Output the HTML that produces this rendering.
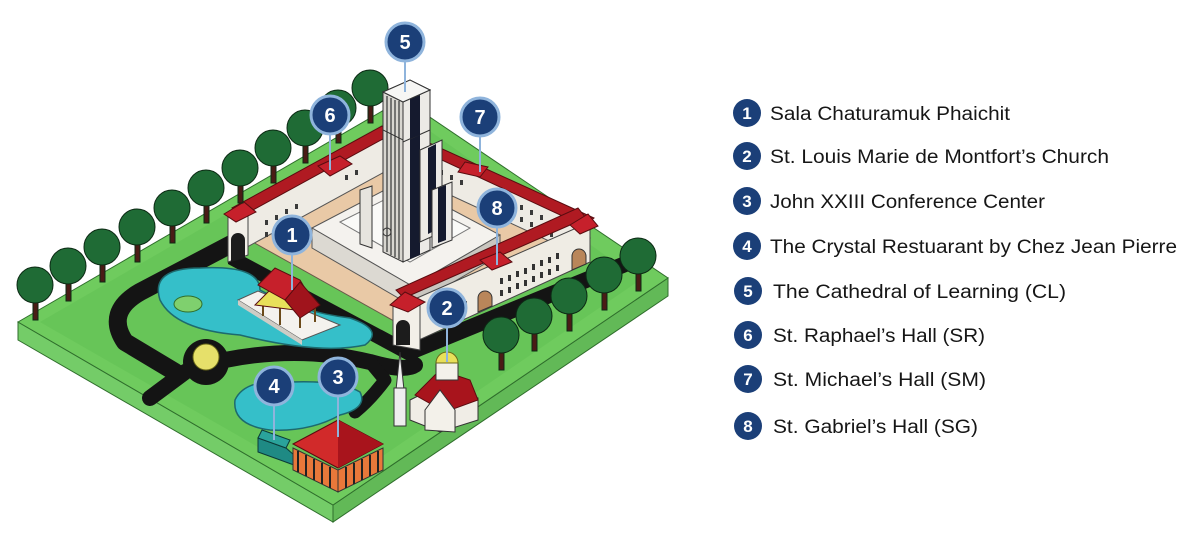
<!DOCTYPE html>
<html><head><meta charset="utf-8"><style>
html,body{margin:0;padding:0;background:#fff;}
svg{display:block;}
</style></head><body>
<svg width="1200" height="535" viewBox="0 0 1200 535" xmlns="http://www.w3.org/2000/svg" font-family="Liberation Sans, sans-serif">
<rect width="1200" height="535" fill="#fff"/>
<polygon points="18,322 333,505 333,522 18,340" fill="#74cc68" stroke="#2f6e2c" stroke-width="1"/>
<polygon points="333,505 668,278 668,296 333,522" fill="#62b957" stroke="#2f6e2c" stroke-width="1"/>
<polygon points="18,322 403,99 668,278 333,505" fill="#6fcb5e" stroke="#2f6e2c" stroke-width="1"/>
<polygon points="40,322 403,112 640,280 333,490" fill="#5fbf52" opacity="0.5"/>
<g fill="none" stroke="#141414" stroke-linecap="round" stroke-linejoin="round">
<path d="M372,170 L140,292 Q105,312 125,342 L175,372" stroke-width="18"/>
<path d="M206,362 L225,360 Q300,345 370,362 Q405,372 415,365" stroke-width="16"/>
<path d="M185,372 L150,398" stroke-width="16"/>
<path d="M370,362 L385,380 Q370,400 355,412" stroke-width="13"/>
<path d="M410,352 L640,258" stroke-width="16"/>
</g>
<circle cx="206" cy="362" r="23" fill="#141414"/>
<polygon points="228,248 410,345 410,362 228,264" fill="#141414"/>
<polygon points="235,232 390,148 590,238 410,330" fill="#e9c9a6" stroke="#6b5a4a" stroke-width="1"/>
<polygon points="238,212 388,132 388,170 238,252" fill="#eeebe4" stroke="#555" stroke-width="1"/>
<polygon points="232,208 382,126 392,134 242,216" fill="#b01a22" stroke="#5a0c10" stroke-width="1"/>
<polygon points="392,130 590,222 590,260 392,168" fill="#eeebe4" stroke="#555" stroke-width="1"/>
<polygon points="392,126 594,218 584,226 390,136" fill="#b01a22" stroke="#5a0c10" stroke-width="1"/>
<g fill="#3a3a3a">
<rect x="265" y="220" width="3" height="5"/><rect x="275" y="215" width="3" height="5"/><rect x="285" y="209" width="3" height="5"/><rect x="295" y="204" width="3" height="5"/><rect x="345" y="175" width="3" height="5"/><rect x="355" y="170" width="3" height="5"/>
<rect x="265" y="232" width="3" height="5"/><rect x="275" y="227" width="3" height="5"/><rect x="285" y="221" width="3" height="5"/><rect x="295" y="216" width="3" height="5"/>
<rect x="440" y="170" width="3" height="5"/><rect x="450" y="175" width="3" height="5"/><rect x="460" y="180" width="3" height="5"/><rect x="520" y="205" width="3" height="5"/><rect x="530" y="210" width="3" height="5"/><rect x="540" y="215" width="3" height="5"/><rect x="550" y="220" width="3" height="5"/>
<rect x="520" y="217" width="3" height="5"/><rect x="530" y="222" width="3" height="5"/><rect x="540" y="227" width="3" height="5"/><rect x="550" y="232" width="3" height="5"/>
</g>
<polygon points="228,215 248,205 248,255 228,262" fill="#f2efe8" stroke="#444" stroke-width="1"/>
<path d="M231,262 v-22 a7,7 0 0 1 14,0 v18 z" fill="#1c1c1c"/>
<polygon points="224,214 244,202 256,212 236,222" fill="#c6202b" stroke="#5a0c10"/>
<polygon points="318,166 340,156 352,164 330,176" fill="#c6202b" stroke="#5a0c10"/>
<polygon points="465,162 488,167 480,177 458,172" fill="#c6202b" stroke="#5a0c10"/>
<polygon points="312,228 400,182 500,235 412,286" fill="#f4f2ee" stroke="#555"/>
<polygon points="312,228 412,286 412,306 312,248" fill="#dcd9d2" stroke="#555"/>
<polygon points="412,286 500,235 500,255 412,306" fill="#c9c6bf" stroke="#555"/>
<polygon points="340,222 400,192 470,228 410,262" fill="#fafaf8" stroke="#777"/>
<polygon points="383,92 403,102 403,262 383,252" fill="#d8d6d0" stroke="#333"/>
<g stroke="#333" stroke-width="1.2"><line x1="387" y1="96" x2="387" y2="252"/><line x1="391" y1="98" x2="391" y2="255"/><line x1="395" y1="100" x2="395" y2="257"/><line x1="399" y1="101" x2="399" y2="259"/></g>
<polygon points="403,102 430,90 430,250 403,262" fill="#eceae6" stroke="#333"/>
<polygon points="410,99 420,95 420,255 410,259" fill="#151a2e"/>
<polygon points="383,92 410,80 430,90 403,102" fill="#f6f6f4" stroke="#333"/>
<polygon points="420,150 442,140 442,232 420,242" fill="#eceae6" stroke="#333"/>
<polygon points="428,148 436,144 436,230 428,234" fill="#151a2e"/>
<polygon points="432,190 452,182 452,240 432,248" fill="#eceae6" stroke="#333"/>
<polygon points="438,188 446,185 446,240 438,243" fill="#151a2e"/>
<polygon points="360,190 372,186 372,248 360,244" fill="#e6e4de" stroke="#333"/>
<circle cx="387" cy="232" r="4" fill="none" stroke="#333"/>
<polygon points="408,302 590,222 590,262 408,345" fill="#efece4" stroke="#444"/>
<polygon points="404,298 586,218 578,208 396,290" fill="#b01a22" stroke="#5a0c10"/>
<g fill="#333">
<rect x="500" y="278" width="3" height="6"/><rect x="508" y="275" width="3" height="6"/><rect x="516" y="271" width="3" height="6"/><rect x="524" y="268" width="3" height="6"/><rect x="532" y="264" width="3" height="6"/><rect x="540" y="260" width="3" height="6"/><rect x="548" y="257" width="3" height="6"/><rect x="556" y="253" width="3" height="6"/>
<rect x="500" y="290" width="3" height="6"/><rect x="508" y="287" width="3" height="6"/><rect x="516" y="283" width="3" height="6"/><rect x="524" y="280" width="3" height="6"/><rect x="532" y="276" width="3" height="6"/><rect x="540" y="272" width="3" height="6"/><rect x="548" y="269" width="3" height="6"/><rect x="556" y="265" width="3" height="6"/>
<rect x="440" y="312" width="3" height="6"/><rect x="448" y="308" width="3" height="6"/><rect x="456" y="305" width="3" height="6"/><rect x="464" y="301" width="3" height="6"/>
</g>
<path d="M478,312 v-14 a7,7 0 0 1 14,0 v8 z" fill="#b9865a" stroke="#333"/>
<path d="M572,270 v-14 a7,7 0 0 1 14,0 v8 z" fill="#b9865a" stroke="#333"/>
<polygon points="480,260 500,252 512,262 492,270" fill="#c6202b" stroke="#5a0c10"/>
<polygon points="393,305 420,300 420,350 393,345" fill="#f2efe8" stroke="#444"/>
<path d="M396,345 v-18 a7,7 0 0 1 14,0 v18 z" fill="#1c1c1c"/>
<polygon points="390,305 405,292 425,302 408,312" fill="#c6202b" stroke="#5a0c10"/>
<polygon points="570,225 588,214 598,226 580,234" fill="#c6202b" stroke="#5a0c10"/>
<path d="M160,300 Q150,268 200,268 Q260,265 260,290 Q300,312 350,318 Q385,330 365,345 Q320,355 240,335 Q175,330 160,300 Z" fill="#35bfc9" stroke="#1d6a6e" stroke-width="1.5"/>
<ellipse cx="188" cy="304" rx="14" ry="8" fill="#7fd06e" stroke="#2f6e2c"/>
<polygon points="238,300 258,291 340,325 302,340" fill="#f4f2ee" stroke="#555"/>
<polygon points="238,300 302,340 302,345 238,305" fill="#cfccc5"/>
<g stroke="#6b4a1a" stroke-width="2"><line x1="263" y1="300" x2="263" y2="316"/><line x1="280" y1="305" x2="280" y2="325"/><line x1="300" y1="310" x2="300" y2="328"/><line x1="315" y1="305" x2="315" y2="322"/></g>
<polygon points="255,305 275,285 295,310" fill="#e8e05a" stroke="#5a0c10"/>
<polygon points="258,285 275,268 300,280 312,300 300,315 285,300" fill="#c6202b" stroke="#5a0c10"/>
<polygon points="285,300 300,282 320,305 300,318" fill="#a0141c" stroke="#5a0c10"/>
<path d="M235,400 Q245,378 290,382 Q340,380 360,392 Q368,408 340,415 Q310,432 270,430 Q232,425 235,400 Z" fill="#35bfc9" stroke="#1d6a6e" stroke-width="1.5"/>
<circle cx="206" cy="357" r="13" fill="#e6e06a" stroke="#6b6a1a"/>
<polygon points="258,438 286,448 294,455 294,465 258,452" fill="#1f8a84" stroke="#0c3a38"/>
<polygon points="262,430 290,440 286,448 258,438" fill="#2aa39b" stroke="#0c3a38"/>
<polygon points="293,448 338,470 338,492 293,470" fill="#e8783a" stroke="#333"/>
<polygon points="338,470 383,448 383,470 338,492" fill="#e8783a" stroke="#333"/>
<g stroke="#222" stroke-width="2"><line x1="298" y1="451" x2="298" y2="472"/><line x1="306" y1="455" x2="306" y2="476"/><line x1="314" y1="459" x2="314" y2="480"/><line x1="322" y1="463" x2="322" y2="484"/><line x1="330" y1="467" x2="330" y2="488"/><line x1="346" y1="467" x2="346" y2="488"/><line x1="354" y1="463" x2="354" y2="484"/><line x1="362" y1="459" x2="362" y2="480"/><line x1="370" y1="455" x2="370" y2="476"/><line x1="378" y1="451" x2="378" y2="472"/></g>
<polygon points="293,444 338,420 383,444 338,468" fill="#d12a2a" stroke="#5a0c10"/>
<polygon points="338,420 383,444 338,468" fill="#a8141c"/>
<polygon points="396,390 400,352 404,390" fill="#eee" stroke="#333"/>
<rect x="394" y="388" width="12" height="38" fill="#eee" stroke="#333"/>
<polygon points="410,400 440,385 478,398 478,420 440,432 410,420" fill="#f0ede6" stroke="#333"/>
<polygon points="415,395 440,370 470,380 478,400 445,412" fill="#a8141c" stroke="#5a0c10"/>
<polygon points="425,410 440,390 455,410 455,432 425,430" fill="#f3f1ea" stroke="#333"/>
<rect x="436" y="362" width="22" height="18" fill="#f3f1ea" stroke="#333"/>
<path d="M436,363 a11,11 0 0 1 22,0 z" fill="#e8e05a" stroke="#6b6a1a"/>
<g stroke="#0c2a14" stroke-width="1">
<rect x="33" y="290" width="5" height="30" fill="#4a1c16"/><circle cx="35" cy="285" r="18" fill="#1f6b35"/>
<rect x="66" y="271" width="5" height="30" fill="#4a1c16"/><circle cx="68" cy="266" r="18" fill="#1f6b35"/>
<rect x="100" y="252" width="5" height="30" fill="#4a1c16"/><circle cx="102" cy="247" r="18" fill="#1f6b35"/>
<rect x="135" y="232" width="5" height="30" fill="#4a1c16"/><circle cx="137" cy="227" r="18" fill="#1f6b35"/>
<rect x="170" y="213" width="5" height="30" fill="#4a1c16"/><circle cx="172" cy="208" r="18" fill="#1f6b35"/>
<rect x="204" y="193" width="5" height="30" fill="#4a1c16"/><circle cx="206" cy="188" r="18" fill="#1f6b35"/>
<rect x="238" y="173" width="5" height="30" fill="#4a1c16"/><circle cx="240" cy="168" r="18" fill="#1f6b35"/>
<rect x="271" y="153" width="5" height="30" fill="#4a1c16"/><circle cx="273" cy="148" r="18" fill="#1f6b35"/>
<rect x="303" y="133" width="5" height="30" fill="#4a1c16"/><circle cx="305" cy="128" r="18" fill="#1f6b35"/>
<rect x="336" y="113" width="5" height="30" fill="#4a1c16"/><circle cx="338" cy="108" r="18" fill="#1f6b35"/>
<rect x="368" y="93" width="5" height="30" fill="#4a1c16"/><circle cx="370" cy="88" r="18" fill="#1f6b35"/>
<rect x="499" y="340" width="5" height="30" fill="#4a1c16"/><circle cx="501" cy="335" r="18" fill="#1f6b35"/>
<rect x="532" y="321" width="5" height="30" fill="#4a1c16"/><circle cx="534" cy="316" r="18" fill="#1f6b35"/>
<rect x="567" y="301" width="5" height="30" fill="#4a1c16"/><circle cx="569" cy="296" r="18" fill="#1f6b35"/>
<rect x="602" y="280" width="5" height="30" fill="#4a1c16"/><circle cx="604" cy="275" r="18" fill="#1f6b35"/>
<rect x="636" y="261" width="5" height="30" fill="#4a1c16"/><circle cx="638" cy="256" r="18" fill="#1f6b35"/>
</g>
<polygon points="383,92 403,102 403,140 383,130" fill="#d8d6d0" stroke="#333"/>
<g stroke="#333" stroke-width="1.2"><line x1="387" y1="96" x2="387" y2="132"/><line x1="391" y1="98" x2="391" y2="134"/><line x1="395" y1="100" x2="395" y2="136"/><line x1="399" y1="101" x2="399" y2="138"/></g>
<polygon points="403,102 430,90 430,130 403,142" fill="#eceae6" stroke="#333"/>
<polygon points="410,99 420,95 420,135 410,139" fill="#151a2e"/>
<polygon points="383,92 410,80 430,90 403,102" fill="#f6f6f4" stroke="#333"/>
<g stroke="#8fb4dc" stroke-width="2">
<line x1="405" y1="42" x2="405" y2="92"/>
<line x1="330" y1="115" x2="330" y2="170"/>
<line x1="480" y1="117" x2="480" y2="172"/>
<line x1="497" y1="208" x2="497" y2="265"/>
<line x1="292" y1="235" x2="292" y2="290"/>
<line x1="447" y1="308" x2="447" y2="362"/>
<line x1="338" y1="377" x2="338" y2="437"/>
<line x1="274" y1="386" x2="274" y2="440"/>
</g>
<g fill="#1b3f78" stroke="#8fb4dc" stroke-width="3">
<circle cx="405" cy="42" r="19"/><circle cx="330" cy="115" r="19"/><circle cx="480" cy="117" r="19"/><circle cx="497" cy="208" r="19"/>
<circle cx="292" cy="235" r="19"/><circle cx="447" cy="308" r="19"/><circle cx="338" cy="377" r="19"/><circle cx="274" cy="386" r="19"/>
</g>
<g fill="#fff" font-size="20" font-weight="bold" text-anchor="middle">
<text x="405" y="49">5</text><text x="330" y="122">6</text><text x="480" y="124">7</text><text x="497" y="215">8</text>
<text x="292" y="242">1</text><text x="447" y="315">2</text><text x="338" y="384">3</text><text x="274" y="393">4</text>
</g>
<g fill="#1b3f78">
<circle cx="747" cy="113" r="14"/><circle cx="747" cy="156" r="14"/><circle cx="747" cy="201" r="14"/><circle cx="747" cy="246" r="14"/>
<circle cx="748" cy="291" r="14"/><circle cx="748" cy="335" r="14"/><circle cx="748" cy="379" r="14"/><circle cx="748" cy="426" r="14"/>
</g>
<g fill="#fff" font-size="17" font-weight="bold" text-anchor="middle">
<text x="747" y="119">1</text><text x="747" y="162">2</text><text x="747" y="207">3</text><text x="747" y="252">4</text>
<text x="748" y="297">5</text><text x="748" y="341">6</text><text x="748" y="385">7</text><text x="748" y="432">8</text>
</g>
<g fill="#161616" font-size="19">
<text x="770" y="120" textLength="240" lengthAdjust="spacingAndGlyphs">Sala Chaturamuk Phaichit</text>
<text x="770" y="163" textLength="339" lengthAdjust="spacingAndGlyphs">St. Louis Marie de Montfort’s Church</text>
<text x="770" y="208" textLength="275" lengthAdjust="spacingAndGlyphs">John XXIII Conference Center</text>
<text x="770" y="253" textLength="407" lengthAdjust="spacingAndGlyphs">The Crystal Restuarant by Chez Jean Pierre</text>
<text x="773" y="298" textLength="293" lengthAdjust="spacingAndGlyphs">The Cathedral of Learning (CL)</text>
<text x="773" y="342" textLength="212" lengthAdjust="spacingAndGlyphs">St. Raphael’s Hall (SR)</text>
<text x="773" y="386" textLength="213" lengthAdjust="spacingAndGlyphs">St. Michael’s Hall (SM)</text>
<text x="773" y="433" textLength="205" lengthAdjust="spacingAndGlyphs">St. Gabriel’s Hall (SG)</text>
</g>
</svg>
</body></html>
